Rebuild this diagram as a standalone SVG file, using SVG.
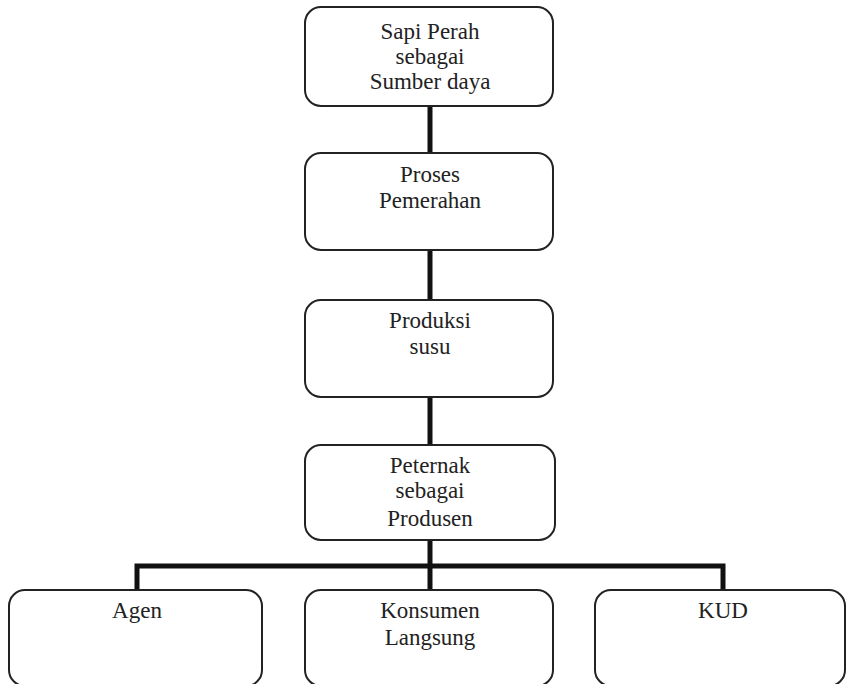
<svg xmlns="http://www.w3.org/2000/svg" width="846" height="684" viewBox="0 0 846 684">
<style>
.box{fill:#fff;stroke:#222;stroke-width:2}
.t{font-family:"Liberation Serif","Times New Roman",serif;font-size:23px;fill:#222;text-anchor:middle}
.c{fill:none;stroke:#111;stroke-width:5}
</style>
<rect width="846" height="684" fill="#fff"/>
<g id="connectors">
<line class="c" x1="430" y1="106" x2="430" y2="153"/>
<line class="c" x1="430" y1="250" x2="430" y2="300"/>
<line class="c" x1="430" y1="397" x2="430" y2="445"/>
<line class="c" x1="430" y1="540" x2="430" y2="590"/>
<polyline class="c" points="137,590 137,566 723,566 723,590"/>
</g>
<g id="n1"><rect class="box" x="305" y="7" width="248" height="99" rx="16"/>
<text class="t" x="430" y="39">Sapi Perah</text><text class="t" x="430" y="64">sebagai</text><text class="t" x="430" y="89">Sumber daya</text></g>
<g id="n2"><rect class="box" x="305" y="153" width="248" height="97" rx="16"/>
<text class="t" x="430" y="182">Proses</text><text class="t" x="430" y="208">Pemerahan</text></g>
<g id="n3"><rect class="box" x="305" y="300" width="248" height="97" rx="16"/>
<text class="t" x="430" y="328">Produksi</text><text class="t" x="430" y="354">susu</text></g>
<g id="n4"><rect class="box" x="305" y="445" width="250" height="95" rx="16"/>
<text class="t" x="430" y="473">Peternak</text><text class="t" x="430" y="498">sebagai</text><text class="t" x="430" y="526">Produsen</text></g>
<g id="n5"><rect class="box" x="9" y="590" width="253" height="96" rx="16"/>
<text class="t" x="137" y="618">Agen</text></g>
<g id="n6"><rect class="box" x="305" y="590" width="248" height="96" rx="16"/>
<text class="t" x="430" y="618">Konsumen</text><text class="t" x="430" y="645">Langsung</text></g>
<g id="n7"><rect class="box" x="595" y="590" width="250" height="96" rx="16"/>
<text class="t" x="723" y="618">KUD</text></g>
</svg>
